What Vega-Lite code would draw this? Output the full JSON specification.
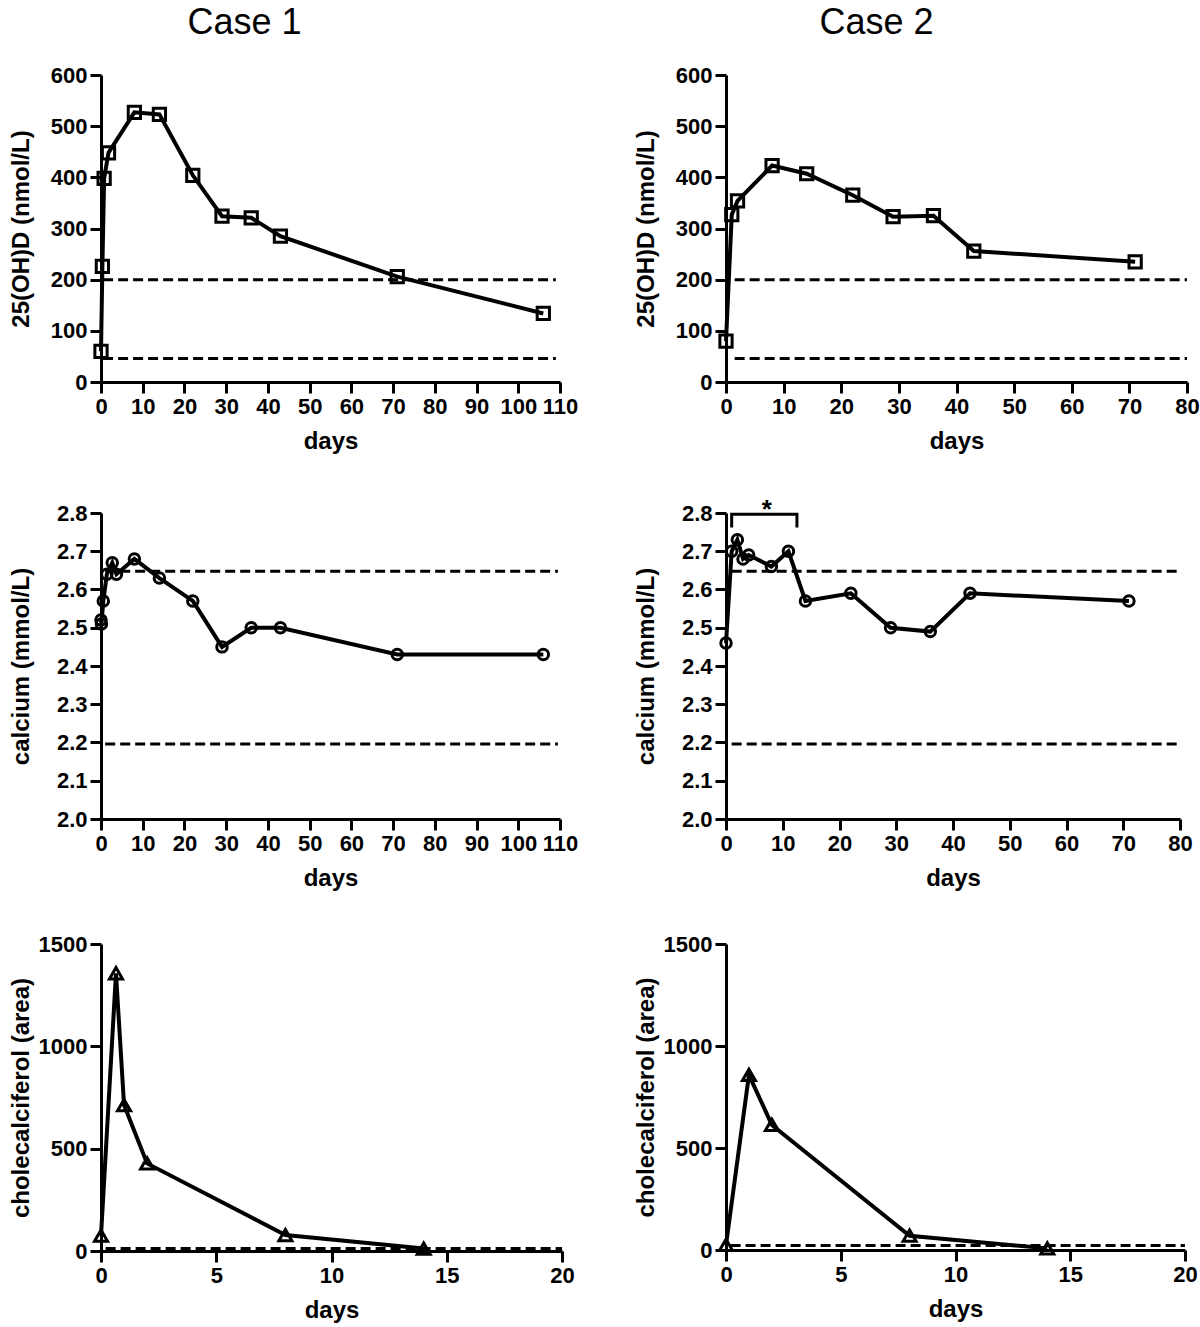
{
  "$schema": "https://vega.github.io/schema/vega-lite/v6.json",
  "background": "white",
  "padding": {"left": 9, "top": 5, "right": 5, "bottom": 5},
  "config": {
    "view": {"stroke": null},
    "font": "Liberation Sans",
    "axis": {
      "domainColor": "black", "domainWidth": 3, "tickColor": "black", "tickWidth": 3, "tickSize": 11,
      "grid": false, "labelFont": "Liberation Sans", "labelFontWeight": "bold", "labelFontSize": 22,
      "labelColor": "black", "labelPadding": 3, "titleFont": "Liberation Sans", "titleFontWeight": "bold",
      "titleFontSize": 24, "titleColor": "black", "labelOverlap": false, "labelFlush": false
    },
    "axisY": {"titleX": -68},
    "axisX": {"titlePadding": 12},
    "title": {"font": "Liberation Sans", "fontSize": 36, "fontWeight": "normal", "color": "black", "frame": "group", "anchor": "middle"}
  },
  "datasets": {
    "c1vit": [
      {"day": 0, "val": 60}, {"day": 0.33, "val": 226}, {"day": 0.75, "val": 398}, {"day": 1.8, "val": 448},
      {"day": 8, "val": 527}, {"day": 14, "val": 523}, {"day": 22, "val": 404}, {"day": 29, "val": 324},
      {"day": 36, "val": 321}, {"day": 43, "val": 285}, {"day": 71, "val": 206}, {"day": 106, "val": 134}
    ],
    "c1vitRef": [{"day": 0.5, "day2": 109, "val": 200}, {"day": 0.5, "day2": 109, "val": 46}],
    "c2vit": [
      {"day": 0, "val": 80}, {"day": 1, "val": 327}, {"day": 2, "val": 354}, {"day": 8, "val": 423},
      {"day": 14, "val": 407}, {"day": 22, "val": 365}, {"day": 29, "val": 323}, {"day": 36, "val": 325},
      {"day": 43, "val": 256}, {"day": 71, "val": 235}
    ],
    "c2vitRef": [{"day": 1.5, "day2": 80, "val": 200}, {"day": 1.5, "day2": 80, "val": 46}],
    "c1ca": [
      {"day": 0, "val": 2.52}, {"day": 0.1, "val": 2.51}, {"day": 0.55, "val": 2.57}, {"day": 1.4, "val": 2.64},
      {"day": 2.7, "val": 2.67}, {"day": 3.7, "val": 2.64}, {"day": 8, "val": 2.68}, {"day": 14, "val": 2.63},
      {"day": 22, "val": 2.57}, {"day": 29, "val": 2.45}, {"day": 36, "val": 2.5}, {"day": 43, "val": 2.5},
      {"day": 71, "val": 2.43}, {"day": 106, "val": 2.43}
    ],
    "c1caRef": [{"day": 1, "day2": 109.5, "val": 2.648}, {"day": 1, "day2": 109.5, "val": 2.196}],
    "c2ca": [
      {"day": 0, "val": 2.46}, {"day": 1, "val": 2.7}, {"day": 2, "val": 2.73}, {"day": 3, "val": 2.68},
      {"day": 4, "val": 2.69}, {"day": 8, "val": 2.66}, {"day": 11, "val": 2.7}, {"day": 14, "val": 2.57},
      {"day": 22, "val": 2.59}, {"day": 29, "val": 2.5}, {"day": 36, "val": 2.49}, {"day": 43, "val": 2.59},
      {"day": 71, "val": 2.57}
    ],
    "c2caRef": [{"day": 1, "day2": 80, "val": 2.648}, {"day": 1, "day2": 80, "val": 2.196}],
    "c2bracket": [
      {"day": 1, "val": 2.762, "o": 1}, {"day": 1, "val": 2.797, "o": 2},
      {"day": 12.5, "val": 2.797, "o": 3}, {"day": 12.5, "val": 2.762, "o": 4}
    ],
    "c2star": [{"day": 7.2, "val": 2.787, "t": "*"}],
    "c1chol": [
      {"day": 0, "val": 75}, {"day": 0.65, "val": 1357}, {"day": 1, "val": 713}, {"day": 2, "val": 428},
      {"day": 8, "val": 78}, {"day": 14, "val": 12}
    ],
    "c1cholRef": [{"day": 0.2, "day2": 20, "val": 12}],
    "c2chol": [
      {"day": 0, "val": 25}, {"day": 1, "val": 858}, {"day": 2, "val": 613}, {"day": 8, "val": 70}, {"day": 14, "val": 8}
    ],
    "c2cholRef": [{"day": 0.2, "day2": 20, "val": 22}]
  },
  "columns": 2,
  "spacing": {"column": 56, "row": 43},
  "concat": [
    {
      "width": 459, "height": 307,
      "title": {"text": "Case 1", "dx": -86, "offset": 22},
      "encoding": {
        "x": {"field": "day", "type": "quantitative", "scale": {"domain": [0, 110], "nice": false},
              "axis": {"title": "days", "values": [0, 10, 20, 30, 40, 50, 60, 70, 80, 90, 100, 110]}},
        "y": {"field": "val", "type": "quantitative", "scale": {"domain": [0, 600], "nice": false},
              "axis": {"title": "25(OH)D (nmol/L)", "format": "d", "values": [0, 100, 200, 300, 400, 500, 600]}}
      },
      "layer": [
        {"data": {"name": "c1vitRef"}, "mark": {"type": "rule", "strokeDash": [10, 5], "strokeWidth": 3, "color": "black"},
         "encoding": {"x2": {"field": "day2"}}},
        {"data": {"name": "c1vit"}, "mark": {"type": "line", "strokeWidth": 4, "color": "black"}, "encoding": {}},
        {"data": {"name": "c1vit"}, "mark": {"type": "point", "shape": "square", "filled": false, "size": 150, "strokeWidth": 3, "color": "black", "opacity": 1}, "encoding": {}}
      ]
    },
    {
      "width": 461, "height": 307,
      "title": {"text": "Case 2", "dx": -80, "offset": 22},
      "encoding": {
        "x": {"field": "day", "type": "quantitative", "scale": {"domain": [0, 80], "nice": false},
              "axis": {"title": "days", "values": [0, 10, 20, 30, 40, 50, 60, 70, 80]}},
        "y": {"field": "val", "type": "quantitative", "scale": {"domain": [0, 600], "nice": false},
              "axis": {"title": "25(OH)D (nmol/L)", "format": "d", "values": [0, 100, 200, 300, 400, 500, 600]}}
      },
      "layer": [
        {"data": {"name": "c2vitRef"}, "mark": {"type": "rule", "strokeDash": [10, 5], "strokeWidth": 3, "color": "black"},
         "encoding": {"x2": {"field": "day2"}}},
        {"data": {"name": "c2vit"}, "mark": {"type": "line", "strokeWidth": 4, "color": "black"}, "encoding": {}},
        {"data": {"name": "c2vit"}, "mark": {"type": "point", "shape": "square", "filled": false, "size": 150, "strokeWidth": 3, "color": "black", "opacity": 1}, "encoding": {}}
      ]
    },
    {
      "width": 459, "height": 306,
      "encoding": {
        "x": {"field": "day", "type": "quantitative", "scale": {"domain": [0, 110], "nice": false},
              "axis": {"title": "days", "values": [0, 10, 20, 30, 40, 50, 60, 70, 80, 90, 100, 110]}},
        "y": {"field": "val", "type": "quantitative", "scale": {"domain": [2.0, 2.8], "nice": false, "zero": false},
              "axis": {"title": "calcium (mmol/L)", "format": ".1f", "values": [2.0, 2.1, 2.2, 2.3, 2.4, 2.5, 2.6, 2.7, 2.8]}}
      },
      "layer": [
        {"data": {"name": "c1caRef"}, "mark": {"type": "rule", "strokeDash": [10, 5], "strokeWidth": 3, "color": "black"},
         "encoding": {"x2": {"field": "day2"}}},
        {"data": {"name": "c1ca"}, "mark": {"type": "line", "strokeWidth": 4, "color": "black"}, "encoding": {}},
        {"data": {"name": "c1ca"}, "mark": {"type": "point", "shape": "circle", "filled": false, "size": 110, "strokeWidth": 3, "color": "black", "opacity": 1}, "encoding": {}}
      ]
    },
    {
      "width": 454, "height": 306,
      "encoding": {
        "x": {"field": "day", "type": "quantitative", "scale": {"domain": [0, 80], "nice": false},
              "axis": {"title": "days", "values": [0, 10, 20, 30, 40, 50, 60, 70, 80]}},
        "y": {"field": "val", "type": "quantitative", "scale": {"domain": [2.0, 2.8], "nice": false, "zero": false},
              "axis": {"title": "calcium (mmol/L)", "format": ".1f", "values": [2.0, 2.1, 2.2, 2.3, 2.4, 2.5, 2.6, 2.7, 2.8]}}
      },
      "layer": [
        {"data": {"name": "c2caRef"}, "mark": {"type": "rule", "strokeDash": [10, 5], "strokeWidth": 3, "color": "black"},
         "encoding": {"x2": {"field": "day2"}}},
        {"data": {"name": "c2ca"}, "mark": {"type": "line", "strokeWidth": 4, "color": "black"}, "encoding": {}},
        {"data": {"name": "c2ca"}, "mark": {"type": "point", "shape": "circle", "filled": false, "size": 110, "strokeWidth": 3, "color": "black", "opacity": 1}, "encoding": {}},
        {"data": {"name": "c2bracket"}, "mark": {"type": "line", "strokeWidth": 3, "color": "black", "clip": false},
         "encoding": {"order": {"field": "o", "type": "quantitative"}}},
        {"data": {"name": "c2star"}, "mark": {"type": "text", "fontSize": 26, "fontWeight": "bold", "baseline": "alphabetic", "color": "black", "clip": false},
         "encoding": {"text": {"field": "t"}}}
      ]
    },
    {
      "width": 461, "height": 307,
      "encoding": {
        "x": {"field": "day", "type": "quantitative", "scale": {"domain": [0, 20], "nice": false},
              "axis": {"title": "days", "values": [0, 5, 10, 15, 20]}},
        "y": {"field": "val", "type": "quantitative", "scale": {"domain": [0, 1500], "nice": false},
              "axis": {"title": "cholecalciferol (area)", "format": "d", "values": [0, 500, 1000, 1500]}}
      },
      "layer": [
        {"data": {"name": "c1cholRef"}, "mark": {"type": "rule", "strokeDash": [10, 5], "strokeWidth": 3, "color": "black"},
         "encoding": {"x2": {"field": "day2"}}},
        {"data": {"name": "c1chol"}, "mark": {"type": "line", "strokeWidth": 4, "color": "black"}, "encoding": {}},
        {"data": {"name": "c1chol"}, "mark": {"type": "point", "shape": "triangle-up", "filled": false, "size": 170, "strokeWidth": 3, "color": "black", "opacity": 1}, "encoding": {}}
      ]
    },
    {
      "width": 459, "height": 306,
      "encoding": {
        "x": {"field": "day", "type": "quantitative", "scale": {"domain": [0, 20], "nice": false},
              "axis": {"title": "days", "values": [0, 5, 10, 15, 20]}},
        "y": {"field": "val", "type": "quantitative", "scale": {"domain": [0, 1500], "nice": false},
              "axis": {"title": "cholecalciferol (area)", "format": "d", "values": [0, 500, 1000, 1500]}}
      },
      "layer": [
        {"data": {"name": "c2cholRef"}, "mark": {"type": "rule", "strokeDash": [10, 5], "strokeWidth": 3, "color": "black"},
         "encoding": {"x2": {"field": "day2"}}},
        {"data": {"name": "c2chol"}, "mark": {"type": "line", "strokeWidth": 4, "color": "black"}, "encoding": {}},
        {"data": {"name": "c2chol"}, "mark": {"type": "point", "shape": "triangle-up", "filled": false, "size": 170, "strokeWidth": 3, "color": "black", "opacity": 1}, "encoding": {}}
      ]
    }
  ]
}
